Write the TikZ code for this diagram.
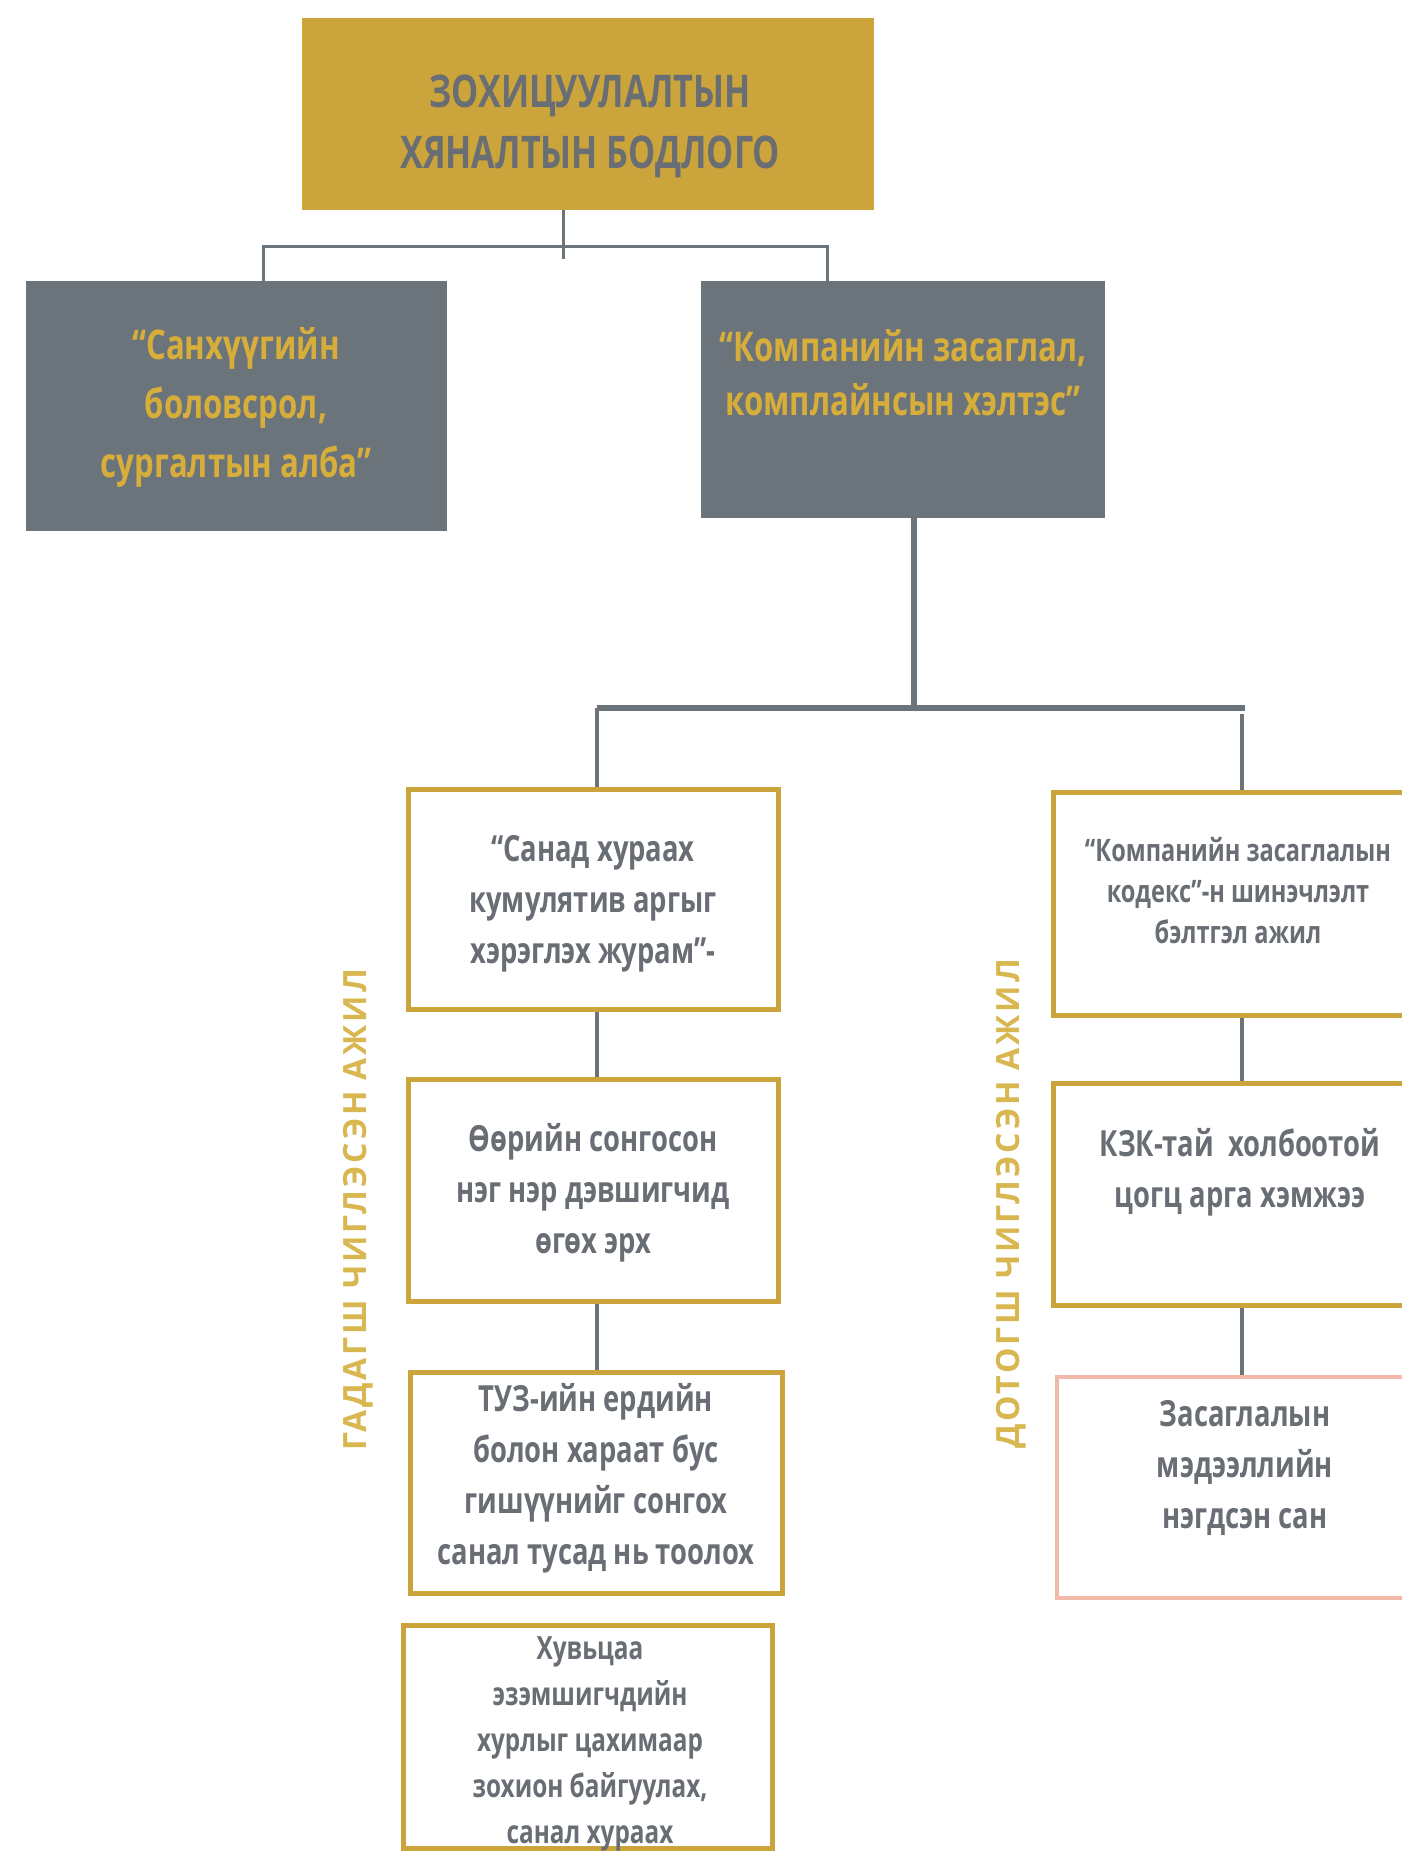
\documentclass[tikz,border=0pt]{standalone}
\usepackage{fontspec}
\setmainfont{Open Sans}
\newfontfamily\cond[FakeStretch=0.76]{Open Sans}
\newfontfamily\wide[LetterSpace=9]{Open Sans}
\definecolor{gold}{HTML}{CBA53B}
\definecolor{goldtxt}{HTML}{D8AE3A}
\definecolor{goldlbl}{HTML}{D9B750}
\definecolor{slate}{HTML}{6C747B}
\definecolor{txtgrey}{HTML}{696D74}
\definecolor{pinkline}{HTML}{F2B9A9}
\begin{document}
\begin{tikzpicture}[x=1pt,y=-1pt,
  topbox/.style={fill=gold,draw=none,inner sep=0pt},
  greybox/.style={fill=slate,draw=none,inner sep=0pt},
  goldbox/.style={draw=gold,line width=5pt,fill=white,inner sep=0pt},
  pinkbox/.style={draw=pinkline,line width=4pt,fill=white,inner sep=0pt},
  boxtext/.style={align=center,text=txtgrey,font=\cond\bfseries\fontsize{36}{51}\selectfont},
  greytext/.style={align=center,text=goldtxt,font=\cond\bfseries\fontsize{41}{59}\selectfont},
  sidelabel/.style={rotate=90,text=goldlbl,font=\wide\bfseries\fontsize{32}{36}\selectfont},
  conn/.style={draw=slate,line width=3pt},
  connthick/.style={draw=slate,line width=6pt},
  connmid/.style={draw=slate,line width=4pt}]
\clip (0,0) rectangle (1402,1860);
\fill[white] (0,0) rectangle (1402,1860);

% top box
\node[topbox,minimum width=572pt,minimum height=192pt] (top) at (588,114) {};
\node[align=center,text=txtgrey,font=\cond\bfseries\fontsize{45}{61}\selectfont] (toptext) at (590,126) {ЗОХИЦУУЛАЛТЫН\\ХЯНАЛТЫН БОДЛОГО};

% grey boxes
\node[greybox,minimum width=421pt,minimum height=250pt] (gl) at (236.5,406) {};
\node[greytext] (gltext) at (236,407) {“Санхүүгийн\\боловсрол,\\сургалтын алба”};
\node[greybox,minimum width=404pt,minimum height=237pt] (gr) at (903,399.5) {};
\node[greytext,font=\cond\bfseries\fontsize{41}{54}\selectfont] (grtext) at (903,373) {“Компанийн засаглал,\\комплайнсын хэлтэс”};

% left column
\node[goldbox,minimum width=370pt,minimum height=220pt] (b1) at (593,899) {};
\node[boxtext] (b1text) at (593,904) {“Санад хураах\\кумулятив аргыг\\хэрэглэх журам”-};
\node[goldbox,minimum width=370pt,minimum height=222pt] (b2) at (593,1190) {};
\node[boxtext] (b2text) at (593,1193) {Өөрийн сонгосон\\нэг нэр дэвшигчид\\өгөх эрх};
\node[goldbox,minimum width=372pt,minimum height=221pt] (b3) at (596,1482.5) {};
\node[boxtext] (b3text) at (596,1478) {ТУЗ-ийн ердийн\\болон хараат бус\\гишүүнийг сонгох\\санал тусад нь тоолох};
\node[goldbox,minimum width=369pt,minimum height=223pt] (b4) at (587.5,1736.5) {};
\node[boxtext,font=\cond\bfseries\fontsize{32}{46}\selectfont] (b4text) at (590,1744) {Хувьцаа\\эзэмшигчдийн\\хурлыг цахимаар\\зохион байгуулах,\\санал хураах};

% right column
\node[goldbox,minimum width=367pt,minimum height=223pt] (r1) at (1236.5,903.5) {};
\node[boxtext,font=\cond\bfseries\fontsize{31}{41}\selectfont] (r1text) at (1238,891) {“Компанийн засаглалын\\кодекс”-н шинэчлэлт\\бэлтгэл ажил};
\node[goldbox,minimum width=367pt,minimum height=222pt] (r2) at (1236.5,1194) {};
\node[boxtext] (r2text) at (1240,1172) {КЗК-тай~ холбоотой\\цогц арга хэмжээ};
\node[pinkbox,minimum width=363pt,minimum height=221pt] (r3) at (1238.5,1487.5) {};
\node[boxtext] (r3text) at (1245,1468) {Засаглалын\\мэдээллийн\\нэгдсэн сан};

% side labels
\node[sidelabel] (lblL) at (358,1210) {ГАДАГШ ЧИГЛЭСЭН АЖИЛ};
\node[sidelabel] (lblR) at (1011,1204) {ДОТОГШ ЧИГЛЭСЭН АЖИЛ};

% connectors top
\coordinate (s1) at (563,259);
\coordinate (h1L) at (263,246);
\coordinate (h1R) at (827,246);
\draw[conn] (top.south -| s1) -- (s1);
\draw[conn] (gl.north -| h1L) -- (h1L) -- (h1R) -- (gr.north -| h1R);

% connectors lower
\coordinate (s2) at (914,708);
\coordinate (h2L) at (597,708);
\coordinate (h2R) at (1245,708);
\coordinate (vR) at (1242,714);
\draw[connthick] (gr.south -| s2) -- (s2);
\draw[connthick] (h2L) -- (h2R);
\draw[connmid] (h2L) -- (b1.north -| h2L);
\draw[connmid] (vR) -- (r1.north -| vR);
\draw[connmid] (b1.south -| h2L) -- (b2.north -| h2L);
\draw[connmid] (b2.south -| h2L) -- (b3.north -| h2L);
\draw[connmid] (r1.south -| vR) -- (r2.north -| vR);
\draw[connmid] (r2.south -| vR) -- (r3.north -| vR);
\end{tikzpicture}
\end{document}
